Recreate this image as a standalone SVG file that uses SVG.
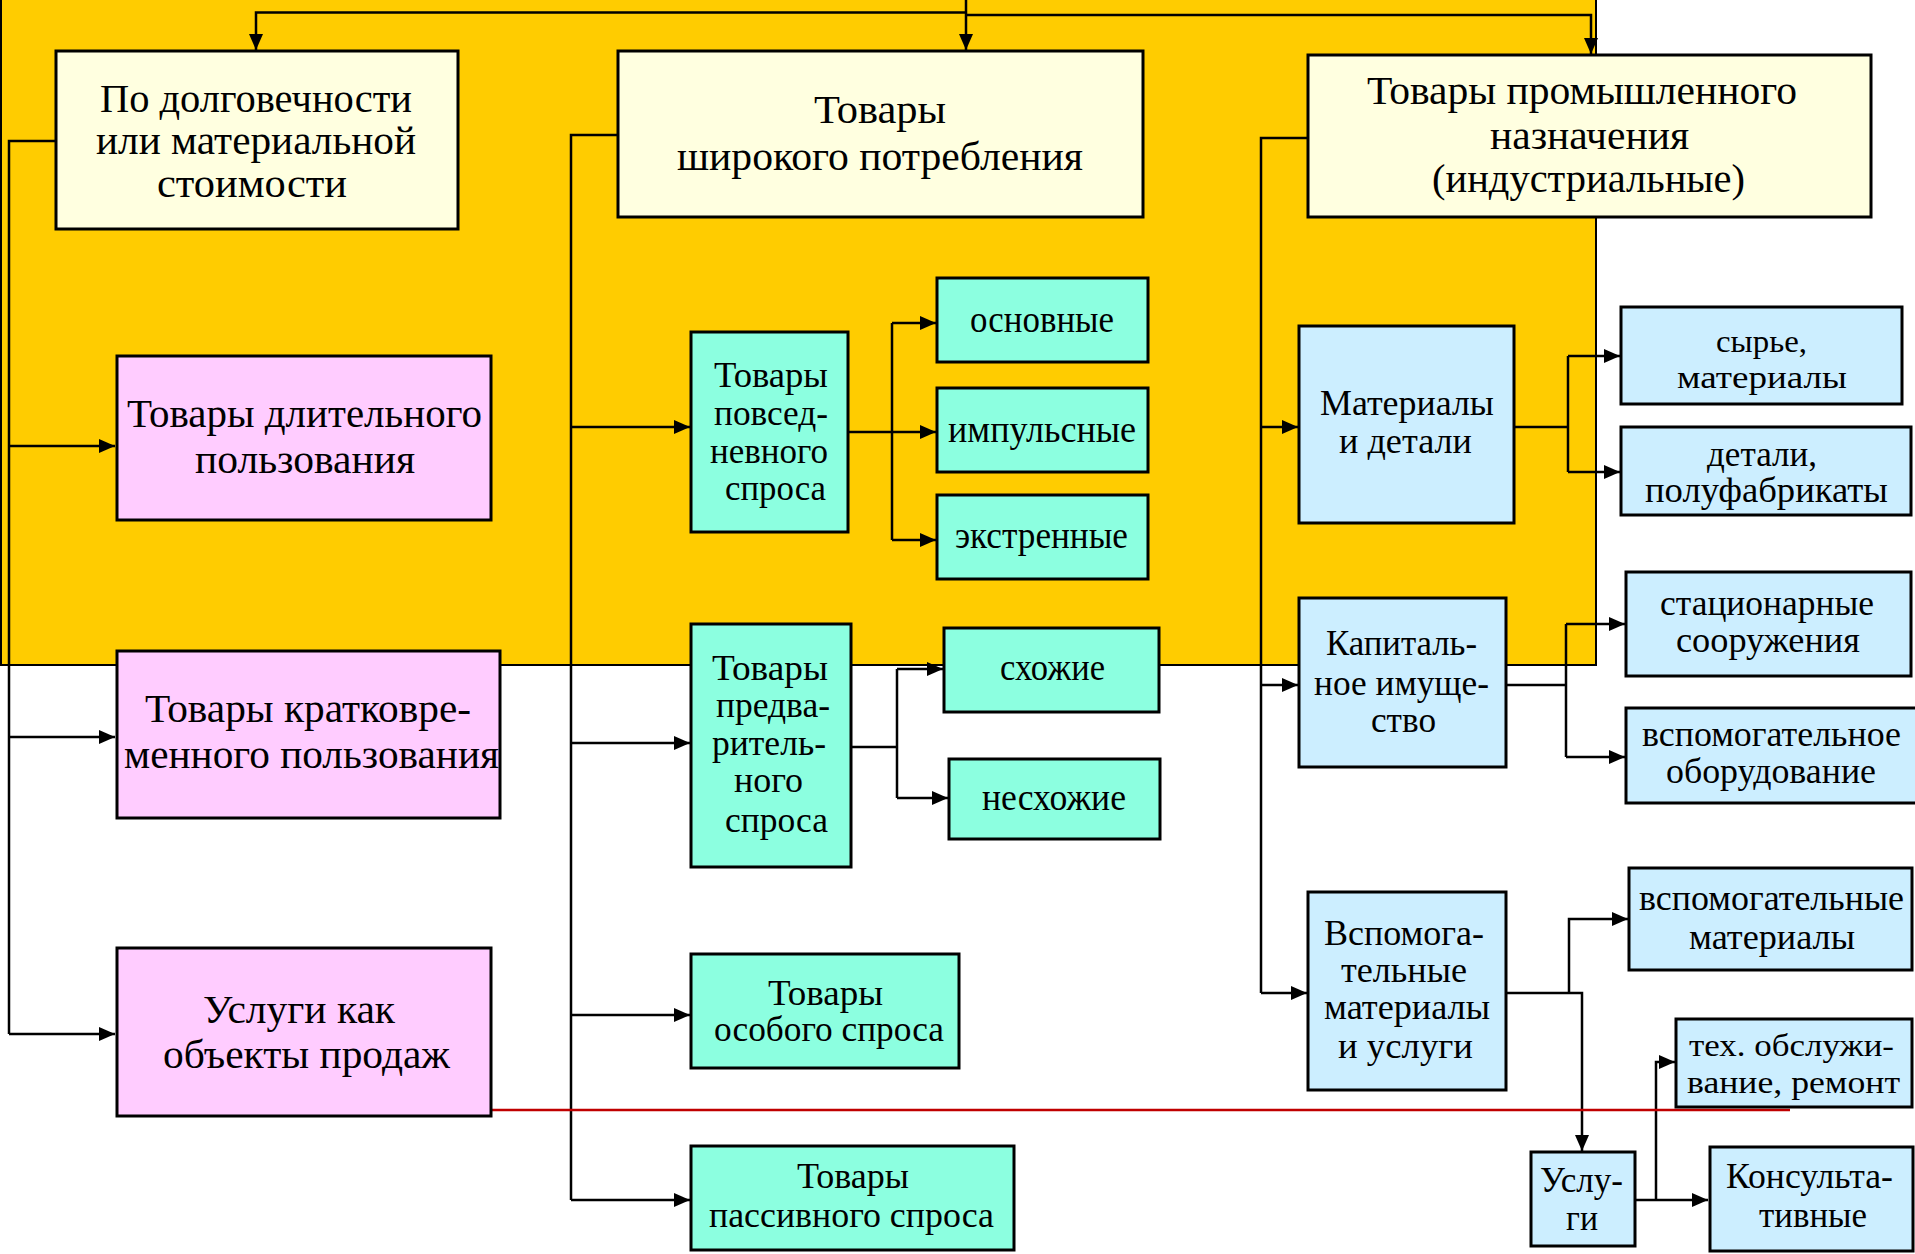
<svg xmlns="http://www.w3.org/2000/svg" width="1915" height="1254" viewBox="0 0 1915 1254">
<style>
.box{stroke:#000;stroke-width:3}
.y{fill:#FFFFE0}.p{fill:#FFCCFF}.g{fill:#8CFFE0}.b{fill:#CCEEFF}
.c{fill:none;stroke:#000;stroke-width:2.5}
.a{marker-end:url(#ah)}
text{font-family:"Liberation Serif","Times New Roman",serif;font-size:35px;fill:#000}
.L{font-size:39px}
.M{font-size:38px}
.S{font-size:32px}
</style>
<defs>
<marker id="ah" markerUnits="userSpaceOnUse" markerWidth="16" markerHeight="14" refX="16" refY="7" orient="auto"><path d="M0,0 L16,7 L0,14 z" fill="#000"/></marker>
</defs>
<rect x="0" y="0" width="1915" height="1254" fill="#FFFFFF"/>
<rect x="1" y="-2" width="1595" height="667" fill="#FFCC00" stroke="#000" stroke-width="2"/>

<g id="connectors">
<path class="c a" d="M966,0 V50"/>
<path class="c a" d="M966,12.5 H256 V50"/>
<path class="c a" d="M966,15 H1591 V54"/>
<path class="c" d="M56,141 H9 V1034"/>
<path class="c a" d="M9,446 H115"/>
<path class="c a" d="M9,737 H115"/>
<path class="c a" d="M9,1034 H115"/>
<path class="c" d="M618,135 H571 V1200"/>
<path class="c a" d="M571,427 H690"/>
<path class="c a" d="M571,743 H690"/>
<path class="c a" d="M571,1015 H690"/>
<path class="c a" d="M571,1200 H690"/>
<path class="c" d="M848,432 H892 M892,323 V540"/>
<path class="c a" d="M892,323 H936"/>
<path class="c a" d="M892,432 H936"/>
<path class="c a" d="M892,540 H936"/>
<path class="c" d="M851,747 H897 M897,669 V798"/>
<path class="c a" d="M897,669 H943"/>
<path class="c a" d="M897,798 H948"/>
<path class="c" d="M1308,138 H1261 V993"/>
<path class="c a" d="M1261,427 H1298"/>
<path class="c a" d="M1261,685 H1298"/>
<path class="c a" d="M1261,993 H1307"/>
<path class="c" d="M1514,427 H1568 M1568,356 V472"/>
<path class="c a" d="M1568,356 H1620"/>
<path class="c a" d="M1568,472 H1620"/>
<path class="c" d="M1506,685 H1566 M1566,624 V757"/>
<path class="c a" d="M1566,624 H1625"/>
<path class="c a" d="M1566,757 H1625"/>
<path class="c a" d="M1506,993 H1582 V1151"/>
<path class="c a" d="M1569,993 V919 H1628"/>
<path class="c a" d="M1635,1200 H1708"/>
<path class="c a" d="M1656,1200 V1062 H1675"/>
<path d="M491,1110 H1790" fill="none" stroke="#C00000" stroke-width="2.5"/>
</g>

<g id="n-durability">
<rect class="box y" x="56" y="51" width="402" height="178"/>
<text class="L" x="100" y="112" textLength="312" lengthAdjust="spacingAndGlyphs">По долговечности</text>
<text class="L" x="96" y="154" textLength="320" lengthAdjust="spacingAndGlyphs">или материальной</text>
<text class="L" x="157" y="197" textLength="190" lengthAdjust="spacingAndGlyphs">стоимости</text>
</g>
<g id="n-consumer">
<rect class="box y" x="618" y="51" width="525" height="166"/>
<text class="L" x="814" y="123" textLength="132" lengthAdjust="spacingAndGlyphs">Товары</text>
<text class="L" x="677" y="170" textLength="406" lengthAdjust="spacingAndGlyphs">широкого потребления</text>
</g>
<g id="n-industrial">
<rect class="box y" x="1308" y="55" width="563" height="162"/>
<text class="L" x="1367" y="104" textLength="430" lengthAdjust="spacingAndGlyphs">Товары промышленного</text>
<text class="L" x="1490" y="149" textLength="199" lengthAdjust="spacingAndGlyphs">назначения</text>
<text class="L" x="1432" y="192" textLength="313" lengthAdjust="spacingAndGlyphs">(индустриальные)</text>
</g>

<g id="n-long">
<rect class="box p" x="117" y="356" width="374" height="164"/>
<text class="L" x="127" y="427" textLength="355" lengthAdjust="spacingAndGlyphs">Товары длительного</text>
<text class="L" x="195" y="473" textLength="220" lengthAdjust="spacingAndGlyphs">пользования</text>
</g>
<g id="n-short">
<rect class="box p" x="117" y="651" width="383" height="167"/>
<text class="L" x="145" y="722" textLength="326" lengthAdjust="spacingAndGlyphs">Товары кратковре-</text>
<text class="L" x="124" y="768" textLength="375" lengthAdjust="spacingAndGlyphs">менного пользования</text>
</g>
<g id="n-services-sale">
<rect class="box p" x="117" y="948" width="374" height="168"/>
<text class="L" x="203" y="1023" textLength="192" lengthAdjust="spacingAndGlyphs">Услуги как</text>
<text class="L" x="163" y="1068" textLength="287" lengthAdjust="spacingAndGlyphs">объекты продаж</text>
</g>

<g id="n-daily">
<rect class="box g" x="691" y="332" width="157" height="200"/>
<text x="714" y="387" textLength="114" lengthAdjust="spacingAndGlyphs">Товары</text>
<text x="714" y="425" textLength="114" lengthAdjust="spacingAndGlyphs">повсед-</text>
<text x="710" y="463" textLength="118" lengthAdjust="spacingAndGlyphs">невного</text>
<text x="725" y="500" textLength="101" lengthAdjust="spacingAndGlyphs">спроса</text>
</g>
<g id="n-basic">
<rect class="box g" x="937" y="278" width="211" height="84"/>
<text class="M" x="970" y="332" textLength="144" lengthAdjust="spacingAndGlyphs">основные</text>
</g>
<g id="n-impulse">
<rect class="box g" x="937" y="388" width="211" height="84"/>
<text class="M" x="948" y="442" textLength="188" lengthAdjust="spacingAndGlyphs">импульсные</text>
</g>
<g id="n-emergency">
<rect class="box g" x="937" y="495" width="211" height="84"/>
<text class="M" x="955" y="548" textLength="173" lengthAdjust="spacingAndGlyphs">экстренные</text>
</g>
<g id="n-preselect">
<rect class="box g" x="691" y="624" width="160" height="243"/>
<text x="712" y="680" textLength="116" lengthAdjust="spacingAndGlyphs">Товары</text>
<text x="716" y="717" textLength="114" lengthAdjust="spacingAndGlyphs">предва-</text>
<text x="712" y="755" textLength="114" lengthAdjust="spacingAndGlyphs">ритель-</text>
<text x="734" y="792" textLength="69" lengthAdjust="spacingAndGlyphs">ного</text>
<text x="725" y="832" textLength="103" lengthAdjust="spacingAndGlyphs">спроса</text>
</g>
<g id="n-similar">
<rect class="box g" x="944" y="628" width="215" height="84"/>
<text class="M" x="1000" y="680" textLength="105" lengthAdjust="spacingAndGlyphs">схожие</text>
</g>
<g id="n-dissimilar">
<rect class="box g" x="949" y="759" width="211" height="80"/>
<text class="M" x="982" y="810" textLength="144" lengthAdjust="spacingAndGlyphs">несхожие</text>
</g>
<g id="n-special">
<rect class="box g" x="691" y="954" width="268" height="114"/>
<text x="768" y="1005" textLength="115" lengthAdjust="spacingAndGlyphs">Товары</text>
<text x="714" y="1041" textLength="230" lengthAdjust="spacingAndGlyphs">особого спроса</text>
</g>
<g id="n-passive">
<rect class="box g" x="691" y="1146" width="323" height="104"/>
<text x="797" y="1188" textLength="112" lengthAdjust="spacingAndGlyphs">Товары</text>
<text x="709" y="1227" textLength="285" lengthAdjust="spacingAndGlyphs">пассивного спроса</text>
</g>

<g id="n-materials">
<rect class="box b" x="1299" y="326" width="215" height="197"/>
<text x="1320" y="415" textLength="174" lengthAdjust="spacingAndGlyphs">Материалы</text>
<text x="1339" y="453" textLength="133" lengthAdjust="spacingAndGlyphs">и детали</text>
</g>
<g id="n-raw">
<rect class="box b" x="1621" y="307" width="281" height="97"/>
<text class="S" x="1716" y="352" textLength="91" lengthAdjust="spacingAndGlyphs">сырье,</text>
<text class="S" x="1677" y="388" textLength="170" lengthAdjust="spacingAndGlyphs">материалы</text>
</g>
<g id="n-parts">
<rect class="box b" x="1621" y="427" width="290" height="88"/>
<text x="1707" y="466" textLength="110" lengthAdjust="spacingAndGlyphs">детали,</text>
<text x="1645" y="502" textLength="243" lengthAdjust="spacingAndGlyphs">полуфабрикаты</text>
</g>
<g id="n-capital">
<rect class="box b" x="1299" y="598" width="207" height="169"/>
<text x="1326" y="655" textLength="151" lengthAdjust="spacingAndGlyphs">Капиталь-</text>
<text x="1314" y="695" textLength="175" lengthAdjust="spacingAndGlyphs">ное имуще-</text>
<text x="1371" y="732" textLength="65" lengthAdjust="spacingAndGlyphs">ство</text>
</g>
<g id="n-stationary">
<rect class="box b" x="1626" y="572" width="285" height="104"/>
<text x="1660" y="615" textLength="214" lengthAdjust="spacingAndGlyphs">стационарные</text>
<text x="1676" y="652" textLength="184" lengthAdjust="spacingAndGlyphs">сооружения</text>
</g>
<g id="n-equipment">
<rect class="box b" x="1626" y="708" width="292" height="95"/>
<text x="1642" y="746" textLength="259" lengthAdjust="spacingAndGlyphs">вспомогательное</text>
<text x="1666" y="783" textLength="210" lengthAdjust="spacingAndGlyphs">оборудование</text>
</g>
<g id="n-auxiliary">
<rect class="box b" x="1308" y="892" width="198" height="198"/>
<text x="1324" y="945" textLength="160" lengthAdjust="spacingAndGlyphs">Вспомога-</text>
<text x="1341" y="982" textLength="126" lengthAdjust="spacingAndGlyphs">тельные</text>
<text x="1324" y="1019" textLength="166" lengthAdjust="spacingAndGlyphs">материалы</text>
<text x="1338" y="1058" textLength="135" lengthAdjust="spacingAndGlyphs">и услуги</text>
</g>
<g id="n-aux-materials">
<rect class="box b" x="1629" y="868" width="283" height="102"/>
<text x="1639" y="910" textLength="265" lengthAdjust="spacingAndGlyphs">вспомогательные</text>
<text x="1689" y="949" textLength="166" lengthAdjust="spacingAndGlyphs">материалы</text>
</g>
<g id="n-maintenance">
<rect class="box b" x="1676" y="1019" width="236" height="88"/>
<text class="S" x="1689" y="1056" textLength="205" lengthAdjust="spacingAndGlyphs">тех. обслужи-</text>
<text class="S" x="1687" y="1093" textLength="213" lengthAdjust="spacingAndGlyphs">вание, ремонт</text>
</g>
<g id="n-services">
<rect class="box b" x="1531" y="1152" width="104" height="94"/>
<text x="1540" y="1192" textLength="83" lengthAdjust="spacingAndGlyphs">Услу-</text>
<text x="1566" y="1230" textLength="32" lengthAdjust="spacingAndGlyphs">ги</text>
</g>
<g id="n-consulting">
<rect class="box b" x="1710" y="1147" width="203" height="104"/>
<text x="1726" y="1188" textLength="167" lengthAdjust="spacingAndGlyphs">Консульта-</text>
<text x="1759" y="1227" textLength="108" lengthAdjust="spacingAndGlyphs">тивные</text>
</g>
</svg>
